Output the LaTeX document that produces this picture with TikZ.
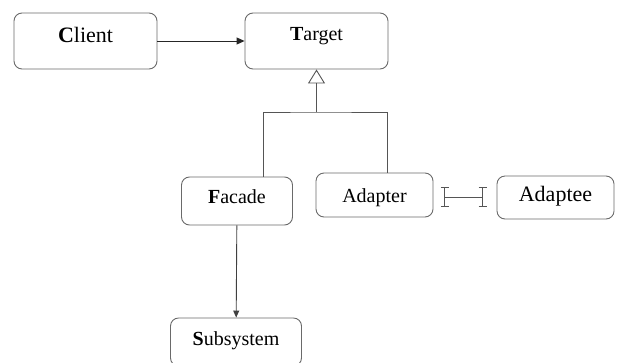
\documentclass[tikz,border=0pt]{standalone}
\usepackage{fontspec}
\setmainfont{Liberation Serif}
\usetikzlibrary{arrows.meta}
\definecolor{edge}{HTML}{555555}
\definecolor{frame}{HTML}{6A6A6A}

\begin{document}
\begin{tikzpicture}[
    x = 1pt, y = -1pt,
    box/.style = {rectangle, rounded corners=8pt, draw=frame, line width=0.9pt, inner sep=0pt, text height=14pt, text depth=8pt, font=\fontsize{20}{24}\selectfont},
    link/.style = {draw=edge, line width=0.9pt},
    ibeam/.pic = {\draw[link] (0,-9.5) -- (0,9.5) (-4,-9.5) -- (4,-9.5) (-4,9.5) -- (4,9.5);},
]
    \useasboundingbox (0,0) rectangle (617,362);
    \begin{scope}[every node/.append style={box}]
        % the classes
        \node[minimum width=143pt, minimum height=56pt, text depth=12pt, font=\fontsize{22}{26}\selectfont] (client) at (85.5,41) {\textbf{C}lient};
        \node[minimum width=143pt, minimum height=56pt, text depth=15pt] (target) at (316.5,41) {\textbf{T}arget};
        \node[minimum width=111pt, minimum height=48pt, text depth=9pt] (facade) at (237,201) {\textbf{F}acade};
        \node[minimum width=117pt, minimum height=44pt, text depth=0pt] (adapter) at (374.5,195) {Adapter};
        \node[minimum width=117pt, minimum height=43pt, text depth=7pt, font=\fontsize{22}{26}\selectfont] (adaptee) at (555.5,197.5) {Adaptee};
        \node[minimum width=131pt, minimum height=48pt] (subsystem) at (236,342) {\textbf{S}ubsystem};
    \end{scope}
    % connectors
    \draw[link, draw=black!85, -{Triangle[length=8pt, width=7pt]}] (client) -- (target);
    \coordinate (joint) at (target.south |- 0,112);
    \draw[link, -{Triangle[open, length=14pt, width=17pt]}] (joint) -- (target.south);
    \draw[link] ([xshift=26pt]facade.north) |- (joint) -| ([xshift=12.5pt]adapter.north);
    \draw[link, draw=black!75, -{Triangle[length=7pt, width=6pt]}] (facade) -- (subsystem);
    \path ([yshift=-2pt]adapter.east) -- ([yshift=-2pt]adapter.east -| adaptee.west) coordinate[pos=0.18] (endL) coordinate[pos=0.78] (endR);
    \draw[link] (endL) -- (endR);
    \pic at (endL) {ibeam};
    \pic at (endR) {ibeam};
\end{tikzpicture}
\end{document}
